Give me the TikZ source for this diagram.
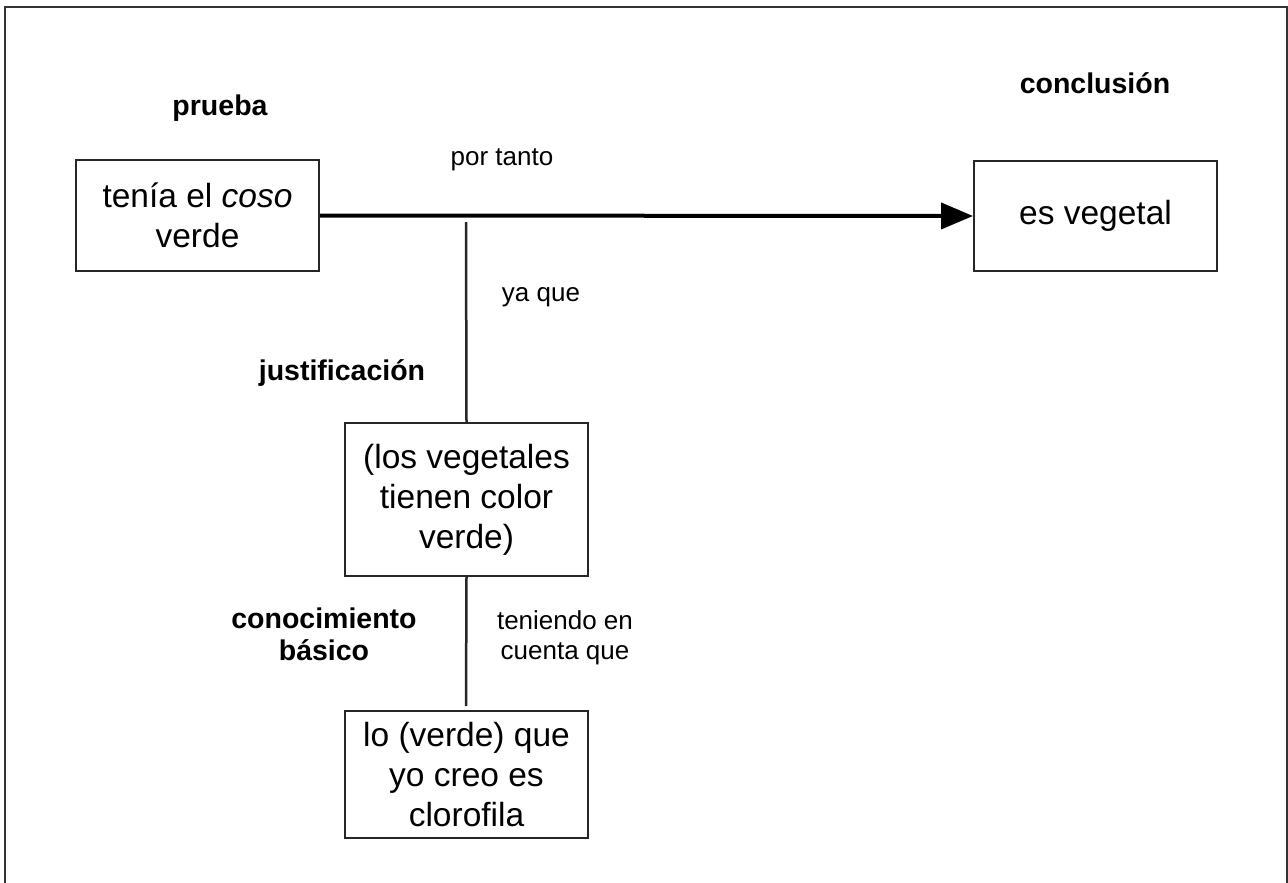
\documentclass[tikz,border=0pt]{standalone}
\usepackage{fontspec}
\setmainfont{Liberation Sans}
\usetikzlibrary{arrows.meta}
\begin{document}
\begin{tikzpicture}[x=1pt,y=-1pt,
  box/.style={draw=black!85, line width=2pt, rectangle, minimum width=243pt, inner sep=0pt, align=center, font=\fontsize{33.5}{40}\selectfont},
  lab/.style={font=\fontsize{28.5}{32}\selectfont\bfseries, align=center, inner sep=0pt},
  rel/.style={font=\fontsize{26}{30}\selectfont, align=center, inner sep=0pt},
  link/.style={line width=2.5pt, draw=black!85}]
\useasboundingbox (0,0) rectangle (1288,883);
\draw[line width=2.5pt, black!80] (5,883) -- (5,7) -- (1287,7) -- (1287,883);

% boxes
\node[box, minimum height=111pt] (prueba) at (197.5,215.5) {ten\'ia el \textit{coso}\\verde};
\node[box, minimum height=110pt] (concl) at (1095.5,216) {es vegetal};
\node[box, minimum height=153pt] (just) at (466.5,499.5) {(los vegetales\\tienen color\\verde)};
\node[box, minimum height=127pt] (basic) at (466.5,774.5) {lo (verde) que\\yo creo es\\clorofila};

% labels
\node[lab, anchor=base] (lprueba) at (220,115) {prueba};
\node[lab, anchor=base] (lconcl) at (1095,93) {conclusi\'on};
\node[lab, anchor=base] (ljust) at (342,380) {justificaci\'on};
\node[lab] (lbasic) at (324,634) {conocimiento\\b\'asico};
\node[rel, anchor=base] (rtanto) at (502,165) {por tanto};
\node[rel, anchor=base] (rya) at (541,301) {ya que};
\node[rel] (rten) at (565,638) {teniendo en\\cuenta que};

% connectors
\draw[line width=4pt, -{Triangle[length=32pt,width=26pt]}] (prueba.east) -- (concl.west);
\coordinate (jtop) at (466,222);
\coordinate (btop) at (466,706);
\draw[link] (jtop) -- (just.north);
\draw[link] (just.south) -- (btop);
\end{tikzpicture}
\end{document}
